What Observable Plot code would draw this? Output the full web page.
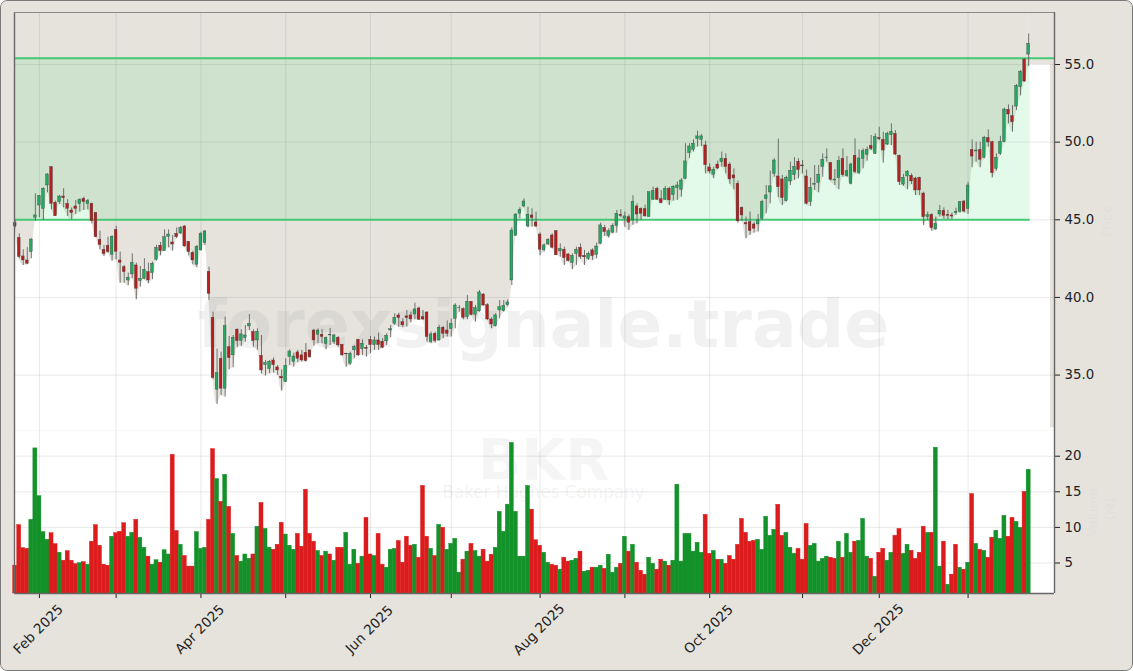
<!DOCTYPE html>
<html>
<head>
<meta charset="utf-8">
<script src="https://cdn.jsdelivr.net/npm/d3@7"></script>
<script src="https://cdn.jsdelivr.net/npm/@observablehq/plot@0.6"></script>
<style>
html,body{margin:0;padding:0;background:#fff;}
#page{position:relative;width:1133px;height:671px;overflow:hidden;background:#e6e3dd;border-radius:7px;}
#page svg{position:absolute;left:0;overflow:visible;background:transparent;}
#edge{position:absolute;inset:0;box-sizing:border-box;border:1.5px solid #7a7a7a;border-radius:7px;pointer-events:none;}
</style>
</head>
<body>
<div id="page"><div id="edge"></div></div>
<script>
const opens = [
44.78,43.84,42.64,42.38,42.92,45.13,45.92,45.71,47.21,48.39,
46.09,46.14,46.5,46.03,45.6,45.86,46.01,46.35,46.01,46.03,
45.45,43.71,43.07,43.33,42.75,44.35,42.38,41.95,41.09,41.48,
42.06,41.05,41.2,41.63,41.57,42.42,43.33,42.98,43.9,43.54,
44.1,44.12,44.57,43.58,42.87,42.1,43.03,43.5,41.65,38.69,
34.06,36.05,34.12,36.8,36.27,37.92,37.19,37.38,38.13,37.77,
37.23,36.24,35.64,35.39,35.94,35.49,34.89,34.55,36.16,35.84,
36.46,36.27,36.44,36.59,37.87,37.6,37.6,37.0,37.55,37.12,
37.4,36.95,36.37,35.73,36.59,37.27,36.67,36.76,37.27,36.93,
37.23,37.15,37.17,37.87,38.3,38.84,38.41,38.78,38.84,38.9,
39.29,38.73,39.03,37.12,37.66,37.23,38.05,37.87,37.96,38.63,
39.3,39.25,38.73,39.72,38.88,39.1,40.19,39.5,38.58,38.15,
39.16,39.12,39.5,41.09,43.97,45.39,45.86,44.57,45.28,44.83,
44.05,43.03,43.41,43.99,44.27,42.96,43.07,42.77,42.21,42.79,
43.2,42.68,42.49,43.03,42.75,43.46,44.47,43.95,44.17,44.59,
45.32,45.07,45.17,44.96,45.86,45.71,45.69,45.17,46.29,47.0,
46.33,46.29,47.0,46.59,47.04,46.93,47.64,49.29,49.51,50.2,
50.15,49.79,48.37,47.9,48.56,48.71,48.93,48.56,47.86,47.32,
45.77,44.79,44.85,44.7,44.7,45.07,46.33,46.76,47.96,47.79,
47.6,46.2,47.47,47.88,48.74,48.5,47.79,46.14,47.26,47.38,
48.39,48.97,48.67,47.53,47.68,48.93,47.81,47.32,49.12,48.0,
48.92,49.18,49.76,49.25,50.27,50.15,49.85,50.45,50.53,49.12,
47.27,47.79,47.83,47.66,47.7,46.69,45.17,45.32,44.38,45.34,
45.58,45.32,45.28,45.43,45.51,46.18,45.7,49.5,49.4,49.5,
48.99,50.26,50.0,48.28,49.25,50.0,52.08,51.67,52.29,53.54,
55.32,55.64];
const closes = [
44.57,42.6,42.38,42.17,43.73,45.28,46.52,47.0,47.92,46.03,
45.23,46.5,46.39,45.71,45.43,45.69,46.29,46.14,46.22,44.91,
43.88,43.37,42.79,42.92,43.9,42.94,42.23,41.63,41.27,42.23,
40.56,41.2,41.78,41.09,42.17,43.2,42.98,43.88,44.05,43.41,
43.88,44.48,43.28,42.92,42.38,43.26,44.1,44.25,40.23,34.81,
35.13,34.12,38.15,36.09,37.4,37.19,37.62,37.55,38.3,37.19,
37.79,35.3,35.77,35.86,35.64,35.3,34.78,35.6,36.52,36.2,
36.05,35.94,35.9,36.14,37.23,37.87,37.45,37.4,37.6,37.55,
36.91,36.27,36.33,36.37,36.8,36.27,37.02,36.69,36.93,37.23,
36.93,36.76,37.53,37.96,38.69,38.67,38.2,38.67,38.58,39.23,
38.56,38.58,37.45,37.62,37.19,38.05,37.66,37.66,38.3,39.48,
39.33,38.69,39.72,38.88,39.31,40.32,39.48,38.58,38.26,38.84,
39.38,39.46,39.68,44.31,45.34,45.64,46.18,45.32,45.11,44.57,
43.07,43.35,43.71,43.2,42.71,43.13,42.53,42.34,42.68,43.07,
42.6,42.58,42.81,42.66,43.28,44.64,44.21,44.27,44.62,45.39,
45.24,45.22,44.81,46.16,45.34,45.39,45.22,46.78,46.85,46.29,
46.07,47.0,46.25,47.13,47.21,47.53,48.76,49.72,49.9,50.37,
50.37,48.52,48.11,48.22,48.3,48.93,48.39,47.6,47.66,44.9,
45.28,44.7,44.27,44.42,44.96,46.14,46.57,47.15,48.82,47.1,
46.4,47.71,48.16,48.41,48.2,48.44,46.03,47.06,47.31,47.9,
48.86,49.01,47.57,47.59,48.8,47.87,48.13,48.56,48.07,48.95,
49.42,49.5,49.55,50.32,50.19,49.46,50.53,50.66,49.2,47.42,
47.7,48.09,47.47,46.89,46.89,45.17,45.3,44.46,44.74,45.58,
45.25,45.25,45.21,45.51,46.13,45.53,47.21,49.07,49.46,48.86,
50.28,49.98,48.0,48.99,50.02,52.1,51.78,51.28,53.62,54.53,
53.9,56.33];
const highs = [
44.95,44.1,43.07,43.2,43.78,46.67,46.57,47.06,47.96,48.43,
46.2,46.57,47.0,46.29,45.77,46.24,46.35,46.46,46.31,46.07,
45.45,44.27,43.35,43.88,43.97,44.59,42.92,42.06,41.57,42.81,
42.21,41.99,42.49,42.21,42.27,43.35,43.54,44.35,44.35,43.99,
44.48,44.57,44.63,43.58,42.98,43.35,44.2,44.31,41.95,39.05,
36.67,36.48,38.73,37.49,37.55,37.98,37.92,38.2,38.9,37.92,
37.98,37.55,35.94,35.94,36.11,35.62,35.34,36.05,36.63,36.41,
36.59,36.59,37.02,36.59,37.94,37.98,37.94,37.45,38.0,37.62,
37.49,36.95,36.41,36.48,36.91,37.27,37.27,36.91,37.49,37.45,
37.7,37.34,37.66,38.2,38.95,38.99,38.62,39.16,39.05,39.63,
39.38,39.16,39.08,37.77,37.77,38.2,38.13,38.48,38.62,39.59,
39.48,39.33,40.13,39.72,39.48,40.45,40.23,39.59,38.69,38.95,
39.8,39.8,39.85,44.48,45.39,45.77,46.35,45.81,45.71,45.49,
44.16,43.45,43.78,44.1,44.31,43.45,43.24,42.81,42.81,43.24,
43.45,43.03,42.92,43.13,43.5,44.79,44.64,44.42,44.74,45.6,
45.65,45.5,45.32,46.55,46.03,45.77,45.95,46.78,47.1,47.1,
46.89,47.15,47.1,47.19,47.43,47.64,49.9,49.9,50.15,50.71,
50.5,50.07,48.61,48.39,48.78,49.36,49.25,48.67,48.28,47.49,
45.82,45.17,45.5,44.85,45.34,46.25,47.21,48.13,48.93,50.2,
47.86,47.81,48.71,49.0,48.93,48.82,48.2,47.7,48.5,48.5,
49.25,49.57,48.67,48.24,49.07,49.57,49.07,48.65,50.21,49.5,
49.57,49.68,50.43,50.53,50.96,50.64,50.64,51.18,50.75,49.16,
47.92,48.17,47.96,47.74,47.74,46.78,45.49,45.39,45.17,45.92,
45.77,45.6,45.43,45.75,46.18,46.24,47.42,50.15,50.0,50.0,
50.38,50.79,50.06,49.25,50.38,52.19,52.4,52.36,53.71,54.61,
55.36,56.97];
const lows = [
44.48,42.49,42.06,42.1,42.49,44.91,45.13,44.96,46.74,45.64,
45.21,45.99,45.77,45.21,45.0,45.34,45.49,45.6,45.64,44.74,
43.84,43.07,42.64,42.85,42.34,42.42,40.92,40.92,40.75,41.2,
39.85,40.66,41.14,40.88,41.14,42.34,42.68,42.98,43.2,42.98,
43.78,44.05,43.24,42.68,42.1,41.91,42.98,43.35,39.81,34.7,
33.11,33.69,33.58,35.34,35.47,36.76,36.85,37.12,37.87,36.8,
36.59,35.08,34.94,35.08,35.13,34.98,33.97,34.51,35.62,35.51,
35.79,35.84,35.84,36.09,36.85,37.02,37.02,36.63,36.9,36.98,
36.8,36.2,35.51,35.62,36.05,36.2,36.27,36.16,36.37,36.59,
36.59,36.7,36.91,37.4,38.2,38.09,38.05,38.09,38.35,38.56,
38.52,38.52,37.12,37.02,37.06,37.19,37.34,37.45,37.45,37.98,
39.05,38.56,38.56,38.82,38.41,39.05,39.44,38.52,37.98,38.09,
38.63,39.05,39.38,40.77,43.93,45.06,45.77,44.48,44.53,44.48,
42.68,42.92,43.35,43.13,42.71,42.6,42.06,42.28,41.78,42.06,
42.45,42.06,42.38,42.38,42.49,43.39,43.93,43.82,44.1,44.14,
45.13,44.53,44.31,44.64,44.74,44.96,45.17,45.17,46.25,46.25,
46.03,46.25,45.92,46.2,46.25,46.46,47.58,48.93,49.36,49.68,
49.72,47.96,47.96,47.64,48.22,48.39,47.96,47.28,46.93,44.79,
44.9,43.78,43.99,44.14,44.21,44.96,45.39,46.03,47.75,46.42,
45.92,46.14,47.21,47.53,47.64,47.96,45.96,45.86,46.89,46.74,
47.74,48.71,47.49,47.21,46.93,47.74,47.74,47.25,47.96,47.9,
48.28,48.78,49.46,49.2,50.1,48.65,49.78,49.78,49.14,47.21,
47.16,46.93,47.27,46.56,46.56,44.63,44.96,44.27,44.31,45.17,
45.04,45.0,45.0,45.28,45.43,45.45,45.34,48.35,48.71,48.35,
48.92,49.68,47.7,48.13,49.14,49.96,51.18,50.64,52.04,52.98,
53.86,54.87];
const volumes = [
4.63,10.33,7.1,7.0,11.07,21.1,14.4,9.35,8.27,9.2,
7.66,6.45,5.33,6.68,5.33,4.86,5.0,5.14,4.77,8.0,
10.33,7.43,4.77,4.63,8.7,9.2,9.4,10.6,8.7,9.25,
11.07,8.55,7.15,5.9,4.77,5.4,5.05,6.8,6.2,20.2,
9.5,7.57,6.0,4.5,4.5,9.35,7.0,7.15,11.07,21.0,
16.8,13.6,17.4,12.9,9.1,6.0,5.2,6.2,5.6,6.2,
10.1,13.45,9.8,7.15,6.87,7.57,10.65,9.0,7.43,6.87,
9.1,7.3,15.3,9.1,8.0,6.7,6.0,6.6,6.2,5.33,
7.15,7.15,9.25,4.77,6.87,4.9,5.9,11.35,6.2,6.0,
9.1,4.77,4.35,6.87,7.0,8.1,5.05,8.7,7.43,7.57,
5.75,15.84,8.7,7.0,6.0,10.37,9.95,6.87,7.7,8.4,
3.65,5.47,6.6,7.7,6.7,5.9,6.87,5.2,6.17,7.15,
12.2,9.4,13.2,21.87,12.2,5.9,5.9,15.84,12.5,8.2,
7.43,6.45,5.05,4.77,4.63,4.07,5.75,5.2,5.33,5.6,
6.6,3.78,3.92,4.35,4.35,4.63,4.2,6.17,3.65,4.35,
4.9,8.7,6.6,7.57,5.05,3.92,3.37,5.75,4.9,4.07,
5.47,5.2,4.63,5.33,16.0,5.2,9.1,9.1,6.6,7.85,
6.45,11.77,6.3,6.7,5.47,5.47,4.9,6.0,5.47,7.57,
11.2,9.25,8.0,8.13,8.27,6.87,11.5,8.83,9.67,13.18,
8.83,9.25,7.15,6.3,7.0,5.47,10.5,7.43,7.7,5.2,
5.6,5.9,5.75,5.6,8.0,5.75,9.1,6.45,8.0,8.13,
11.2,5.9,5.6,3.08,6.45,7.0,5.33,6.45,8.83,9.8,
6.3,7.57,6.73,5.6,6.45,10.1,9.25,9.25,21.2,4.5,
8.0,1.96,3.37,7.57,4.35,4.07,5.05,14.7,7.7,6.87,
6.73,5.75,8.55,9.53,8.4,11.63,8.7,11.35,10.8,9.95,
15.0,18.1];
const volumeSides = (
"rrrrgggggr"+"rgrrrrgrgr"+"rrrrgrrrgg"+"rggrggrggr"+"rgrrrgggrr"+
"grgrgrgggr"+"grggrrrggg"+"rrrrrgrgrg"+"rrgggrgrrg"+"rrgggrrrrg"+
"rrrgrgrggg"+"grgrggrrrg"+"ggggggggrr"+"rggrrgrrgg"+"rggrggrggg"+
"rgrgrrrggr"+"rgrggggggg"+"grrgrgrrrr"+"rrrrgggggr"+"rgggrrrggg"+
"ggrrgrggrg"+"ggrgrrggrr"+"ggrrrrgrgg"+"rgrrgrgrgr"+"grrgggrrgg"+
"rg").split("");

const tickIndex = [6,25,46,67,88,108,130,151,172,195,214,236];
const tickLabels = ["Feb 2025","","Apr 2025","","Jun 2025","","Aug 2025","","Oct 2025","","Dec 2025",""];
const priceTicks = [35,40,45,50,55];
const volumeTicks = [5,10,15,20];
const supportLevel = 45;
const resistanceLevel = 55.4;

const xDomain = [-0.17,257.4];
const priceDomain = [31.43,58.35];
const volumeDomain = [0.72,23.61];

const candles = opens.map((o,i)=>({i,o,c:closes[i],h:highs[i],l:lows[i]}));
const bars = volumes.map((v,i)=>({i,v,side:volumeSides[i]}));
const lastIndex = candles.length-1;
const inkFont = "DejaVu Sans, sans-serif";
const gridStroke = "#777";
const barColor = d=>d.side==="g"?"#14922a":"#dc1c1c";

const pricePlot = Plot.plot({
  width:1133,height:430,marginLeft:14,marginRight:79,marginTop:12,marginBottom:0,
  style:{fontFamily:inkFont,fontSize:"13.3px",color:"#222",background:"transparent"},
  x:{domain:xDomain,axis:null},
  y:{domain:priceDomain,axis:null},
  marks:[
    Plot.frame({fill:"#fff",stroke:null}),
    Plot.areaY(candles,{x:"i",y1:priceDomain[1],y2:"l",fill:"#e6e3dd",curve:"monotone-x"}),
    Plot.rect([0],{x1:lastIndex,x2:xDomain[1],y1:55,y2:priceDomain[1],fill:"#e6e3dd"}),
    Plot.rect([0],{x1:256.4,x2:xDomain[1],y1:31.6,y2:55,fill:"#e6e3dd"}),
    Plot.rect([0],{x1:xDomain[0],x2:lastIndex+0.4,y1:supportLevel,y2:resistanceLevel,fill:"rgb(115,225,150)",fillOpacity:0.2}),
    Plot.ruleX(tickIndex,{stroke:gridStroke,strokeOpacity:0.16,strokeWidth:1}),
    Plot.ruleY(priceTicks,{stroke:gridStroke,strokeOpacity:0.16,strokeWidth:1}),
    Plot.ruleY([supportLevel],{x1:xDomain[0],x2:lastIndex+0.4,stroke:"#45c876",strokeWidth:2}),
    Plot.ruleY([resistanceLevel],{x1:xDomain[0],x2:xDomain[1],stroke:"#45c876",strokeWidth:2}),
    Plot.text(["forexsignale.trade"],{frameAnchor:"middle",dx:9,dy:104,fontSize:66.4,fontWeight:"bold",fill:"#808080",fillOpacity:0.11,fontFamily:inkFont}),
    Plot.ruleX(candles,{x:"i",y1:"l",y2:"h",stroke:"#4a4a4a",strokeWidth:0.75}),
    Plot.rect(candles,{x1:d=>d.i-0.34,x2:d=>d.i+0.34,y1:"o",y2:"c",
      fill:d=>d.c>=d.o?"#22a860":"#b3201f",stroke:"#3a3a3a",strokeWidth:0.35}),
    Plot.axisY({anchor:"right",ticks:priceTicks,tickFormat:d3.format(".1f"),tickSize:5,tickPadding:5,label:null,fontSize:13.3,stroke:"#222",fill:"#222"}),
    Plot.ruleX([xDomain[0],xDomain[1]],{stroke:"#666",strokeWidth:1.4}),
    Plot.ruleY([priceDomain[1]],{stroke:"#888",strokeWidth:1}),
    Plot.text(["Price"],{frameAnchor:"right",textAnchor:"middle",dx:52,dy:0,rotate:-90,fontSize:13,fill:"#e2dfd9"})
  ]
});

const volumePlot = Plot.plot({
  width:1133,height:241,marginLeft:14,marginRight:79,marginTop:0,marginBottom:78,
  style:{fontFamily:inkFont,fontSize:"13.3px",color:"#222",background:"transparent"},
  x:{domain:xDomain,axis:null},
  y:{domain:volumeDomain,axis:null},
  marks:[
    Plot.frame({fill:"#fff",stroke:null}),
    Plot.ruleX(tickIndex,{stroke:gridStroke,strokeOpacity:0.16,strokeWidth:1}),
    Plot.ruleY(volumeTicks,{stroke:gridStroke,strokeOpacity:0.16,strokeWidth:1}),
    Plot.text(["BKR"],{frameAnchor:"top-left",textAnchor:"middle",lineAnchor:"middle",dx:529,dy:31,fontSize:57,fontWeight:"bold",fill:"#808080",fillOpacity:0.08,fontFamily:inkFont}),
    Plot.text(["Baker Hughes Company"],{frameAnchor:"top-left",textAnchor:"middle",lineAnchor:"middle",dx:529,dy:62,fontSize:16.8,fill:"#808080",fillOpacity:0.1}),
    Plot.rect(bars,{x1:d=>d.i-0.5,x2:d=>d.i+0.5,y1:volumeDomain[0],y2:"v",fill:barColor,stroke:barColor,strokeWidth:0.4}),
    Plot.axisY({anchor:"right",ticks:volumeTicks,tickSize:5,tickPadding:5,label:null,fontSize:13.3,stroke:"#222",fill:"#222"}),
    Plot.axisX({ticks:tickIndex,text:null,tickSize:5,label:null,stroke:"#222"}),
    Plot.axisX({ticks:tickIndex,tickFormat:i=>tickLabels[tickIndex.indexOf(i)],tickSize:0,tickRotate:-45,textAnchor:"middle",tickPadding:0,dy:36,dx:-1,lineAnchor:"middle",label:null,fontSize:13.7,fill:"#222"}),
    Plot.ruleX([xDomain[0],xDomain[1]],{stroke:"#666",strokeWidth:1.4}),
    Plot.ruleY([volumeDomain[0]],{stroke:"#666",strokeWidth:1.4}),
    Plot.text(["Volume"],{frameAnchor:"right",textAnchor:"middle",dx:38,dy:0,rotate:-90,fontSize:13,fill:"#e2dfd9"}),
    Plot.text(["[M]"],{frameAnchor:"right",textAnchor:"middle",dx:56,dy:-3,rotate:-90,fontSize:13,fill:"#e2dfd9"})
  ]
});

const page = document.getElementById("page");
const edge = document.getElementById("edge");
pricePlot.style.top = "0px";
volumePlot.style.top = "430px";
page.insertBefore(pricePlot,edge);
page.insertBefore(volumePlot,edge);
</script>
</body>
</html>
